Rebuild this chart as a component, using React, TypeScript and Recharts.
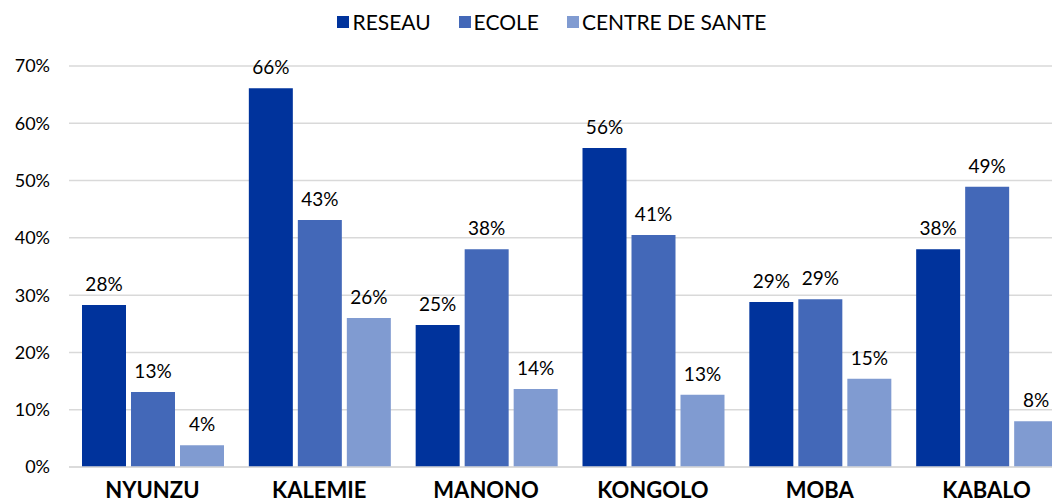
import React from "react";
import {
  BarChart,
  Bar,
  XAxis,
  YAxis,
  CartesianGrid,
  Legend,
  LabelList,
} from "recharts";

const territoires = ["NYUNZU", "KALEMIE", "MANONO", "KONGOLO", "MOBA", "KABALO"];
const reseau = [28.3, 66.1, 24.8, 55.7, 28.8, 38.0];
const ecole = [13.1, 43.1, 38.0, 40.5, 29.3, 48.9];
const centreSante = [3.8, 26.0, 13.6, 12.6, 15.4, 8.0];
const yTicks = [0, 10, 20, 30, 40, 50, 60, 70];

const data = territoires.map((t, i) => ({
  name: t,
  reseau: reseau[i],
  ecole: ecole[i],
  sante: centreSante[i],
}));

const series = [
  { key: "reseau", label: "RESEAU", color: "#00339C" },
  { key: "ecole", label: "ECOLE", color: "#4368B8" },
  { key: "sante", label: "CENTRE DE SANTE", color: "#809BD1" },
];

const FONT = "Lato, 'Open Sans', sans-serif";

function LegendBox() {
  return (
    <div style={{ display: "flex", justifyContent: "center", fontFamily: FONT, fontSize: 21, lineHeight: "22px", color: "#000" }}>
      {series.map((s, i) => (
        <div key={s.key} style={{ display: "flex", alignItems: "center", marginRight: i < series.length - 1 ? 28 : 0 }}>
          <span style={{ width: 12, height: 12, background: s.color, display: "inline-block", marginRight: 3 }} />
          <span>{s.label}</span>
        </div>
      ))}
    </div>
  );
}

export default function App() {
  return (
    <div style={{ position: "absolute", left: 0, top: 0, width: 1052, height: 503, overflow: "hidden", background: "#fff" }}>
      <BarChart
        width={1070}
        height={503}
        data={data}
        margin={{ top: 44, right: 0, left: 0, bottom: 0 }}
        barGap={5}
        barCategoryGap={13}
      >
        <CartesianGrid vertical={false} stroke="#d9d9d9" strokeWidth={1.5} />
        <XAxis
          dataKey="name"
          height={36}
          tickSize={0}
          tickMargin={15}
          axisLine={{ stroke: "#d9d9d9", strokeWidth: 1.5 }}
          tick={{ fill: "#000", fontSize: 22, fontWeight: 700, fontFamily: FONT }}
          interval={0}
        />
        <YAxis
          width={69}
          domain={[0, 70]}
          ticks={yTicks}
          tickFormatter={(v) => `${v}%`}
          tickSize={0}
          tickMargin={19}
          axisLine={false}
          tick={{ fill: "#000", fontSize: 18, fontFamily: FONT }}
        />
        <Legend
          verticalAlign="top"
          height={22}
          content={() => <LegendBox />}
          wrapperStyle={{ top: 11, left: 17, width: 1070 }}
        />
        {series.map((s) => (
          <Bar key={s.key} dataKey={s.key} name={s.label} fill={s.color} isAnimationActive={false}>
            <LabelList
              dataKey={s.key}
              position="top"
              offset={14}
              formatter={(v: number) => `${Math.round(v)}%`}
              style={{ fill: "#000", fontSize: 19, fontFamily: FONT }}
            />
          </Bar>
        ))}
      </BarChart>
    </div>
  );
}
